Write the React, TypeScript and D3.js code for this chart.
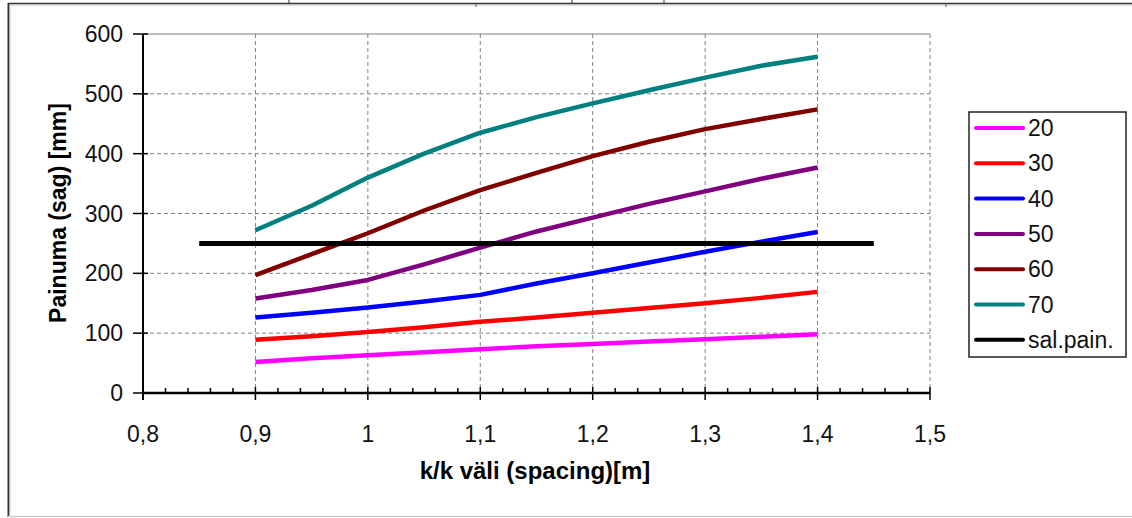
import React from 'react';
import * as d3 from 'd3';

// spacing values (m)
const spacing = [0.9, 0.95, 1.0, 1.05, 1.1, 1.15, 1.2, 1.25, 1.3, 1.35, 1.4];

const sag20 = [52, 58, 63, 68, 73, 78, 82, 86, 90, 94, 98];
const sag30 = [89, 95, 102, 110, 119, 126, 134, 142, 150, 159, 169];
const sag40 = [126, 134, 143, 153, 164, 183, 200, 218, 236, 253, 269];
const sag50 = [158, 172, 189, 215, 243, 270, 293, 316, 337, 358, 377];
const sag60 = [197, 232, 267, 305, 339, 368, 396, 420, 441, 458, 474];
const sag70 = [272, 313, 360, 400, 435, 461, 484, 506, 527, 547, 562];

// allowed sag line
const limitX = [0.85, 1.45];
const limitY = [250, 250];

const seriesNames = ['20', '30', '40', '50', '60', '70', 'sal.pain.'];
const seriesColors = ['#FF00FF', '#FF0000', '#0000FF', '#800080', '#800000', '#008080', '#000000'];

const xTicks = [0.8, 0.9, 1.0, 1.1, 1.2, 1.3, 1.4, 1.5];
const yTicks = [0, 100, 200, 300, 400, 500, 600];

const W = 1132;
const H = 518;
const FONT = '"Liberation Sans", Arial, sans-serif';

const App: React.FC = () => {
  const x = d3.scaleLinear().domain([0.8, 1.5]).range([143, 930]);
  const y = d3.scaleLinear().domain([0, 600]).range([393, 34]);

  const line = d3.line<[number, number]>()
    .x(d => x(d[0]))
    .y(d => y(d[1]));

  const series = [sag20, sag30, sag40, sag50, sag60, sag70].map((vals, i) => ({
    name: seriesNames[i],
    color: seriesColors[i],
    points: spacing.map((s, j) => [s, vals[j]] as [number, number]),
  }));
  const limit = {
    name: seriesNames[6],
    color: seriesColors[6],
    points: limitX.map((s, j) => [s, limitY[j]] as [number, number]),
  };

  const minorTicks = d3.range(0.8, 1.5001, 0.02).filter(
    v => Math.abs(v * 10 - Math.round(v * 10)) > 0.01
  );
  const fmt = (v: number) => d3.format('.1~f')(v).replace('.', ',');

  const legendX = 969;
  const legendY = 112;
  const legendW = 157;
  const legendH = 245;
  const rowY = (i: number) => 128 + i * 35.3;

  return (
    <svg
      width={W}
      height={H}
      style={{ position: 'absolute', left: 0, top: 0, display: 'block', background: '#fff' }}
      fontFamily={FONT}
    >
      {/* frame pieces of the surrounding sheet */}
      <line x1={8} x2={W} y1={3.5} y2={3.5} stroke="#333" strokeWidth={1.5} />
      <line x1={8} x2={W} y1={5} y2={5} stroke="#bbb" strokeWidth={1} />
      {[289, 572, 664].map(t => (
        <line key={'tu' + t} x1={t} x2={t} y1={0} y2={3} stroke="#333" strokeWidth={1} />
      ))}
      {[476, 946].map(t => (
        <line key={'td' + t} x1={t} x2={t} y1={4} y2={7} stroke="#555" strokeWidth={1} />
      ))}
      <line x1={8.5} x2={8.5} y1={3} y2={517} stroke="#333" strokeWidth={2} />
      <line x1={10} x2={10} y1={5} y2={516} stroke="#ccc" strokeWidth={1} />
      <line x1={8} x2={W} y1={516.5} y2={516.5} stroke="#ccc" strokeWidth={1.5} />

      {/* grid */}
      <g stroke="#808080" strokeWidth={1} strokeDasharray="4,3">
        {xTicks.slice(1).map(t => (
          <line key={'gx' + t} x1={x(t)} x2={x(t)} y1={y(600)} y2={y(0)} />
        ))}
        {yTicks.slice(1, -1).map(t => (
          <line key={'gy' + t} x1={x(0.8)} x2={x(1.5)} y1={y(t)} y2={y(t)} />
        ))}
      </g>
      <line x1={x(0.8)} x2={x(1.5)} y1={y(600)} y2={y(600)} stroke="#808080" strokeWidth={1} />

      {/* axes */}
      <g stroke="#000">
        <line x1={x(0.8)} x2={x(0.8)} y1={y(600)} y2={y(0) + 7} strokeWidth={2} />
        {yTicks.map(t => (
          <line key={'yt' + t} x1={133} x2={148} y1={y(t)} y2={y(t)} strokeWidth={1.5} />
        ))}
        <line x1={x(0.8)} x2={x(1.5)} y1={y(0)} y2={y(0)} strokeWidth={2.5} />
        {xTicks.map(t => (
          <line key={'xt' + t} x1={x(t)} x2={x(t)} y1={y(0) - 6} y2={y(0) + 7} strokeWidth={1.5} />
        ))}
        {minorTicks.map(t => (
          <line key={'xm' + t.toFixed(2)} x1={x(t)} x2={x(t)} y1={y(0) - 5} y2={y(0)} strokeWidth={1.5} />
        ))}
      </g>

      {/* tick labels */}
      <g fontSize={23} fill="#111">
        {yTicks.map(t => (
          <text key={'yl' + t} x={123} y={y(t)} textAnchor="end" dominantBaseline="central">
            {t}
          </text>
        ))}
        {xTicks.map(t => (
          <text key={'xl' + t} x={x(t)} y={434} textAnchor="middle" dominantBaseline="central">
            {fmt(t)}
          </text>
        ))}
      </g>

      {/* axis titles */}
      <text
        x={535}
        y={470}
        textAnchor="middle"
        dominantBaseline="central"
        fontSize={24}
        fontWeight="bold"
      >
        k/k väli (spacing)[m]
      </text>
      <text
        transform="translate(58,213) rotate(-90)"
        textAnchor="middle"
        dominantBaseline="central"
        fontSize={23}
        fontWeight="bold"
      >
        Painuma (sag) [mm]
      </text>

      {/* data lines */}
      {series.map(s => (
        <path key={s.name} d={line(s.points) || ''} fill="none" stroke={s.color} strokeWidth={4.5} strokeLinejoin="round" />
      ))}
      <path d={line(limit.points) || ''} fill="none" stroke={limit.color} strokeWidth={5} />

      {/* legend */}
      <rect x={legendX} y={legendY} width={legendW} height={legendH} fill="#fff" stroke="#222" strokeWidth={1.5} />
      {seriesNames.map((n, i) => (
        <g key={'lg' + n}>
          <line x1={976} x2={1023} y1={rowY(i)} y2={rowY(i)} stroke={seriesColors[i]} strokeWidth={4} strokeLinecap="round" />
          <text x={1028} y={rowY(i)} fontSize={23} dominantBaseline="central" fill="#111">
            {n}
          </text>
        </g>
      ))}
    </svg>
  );
};

export default App;
